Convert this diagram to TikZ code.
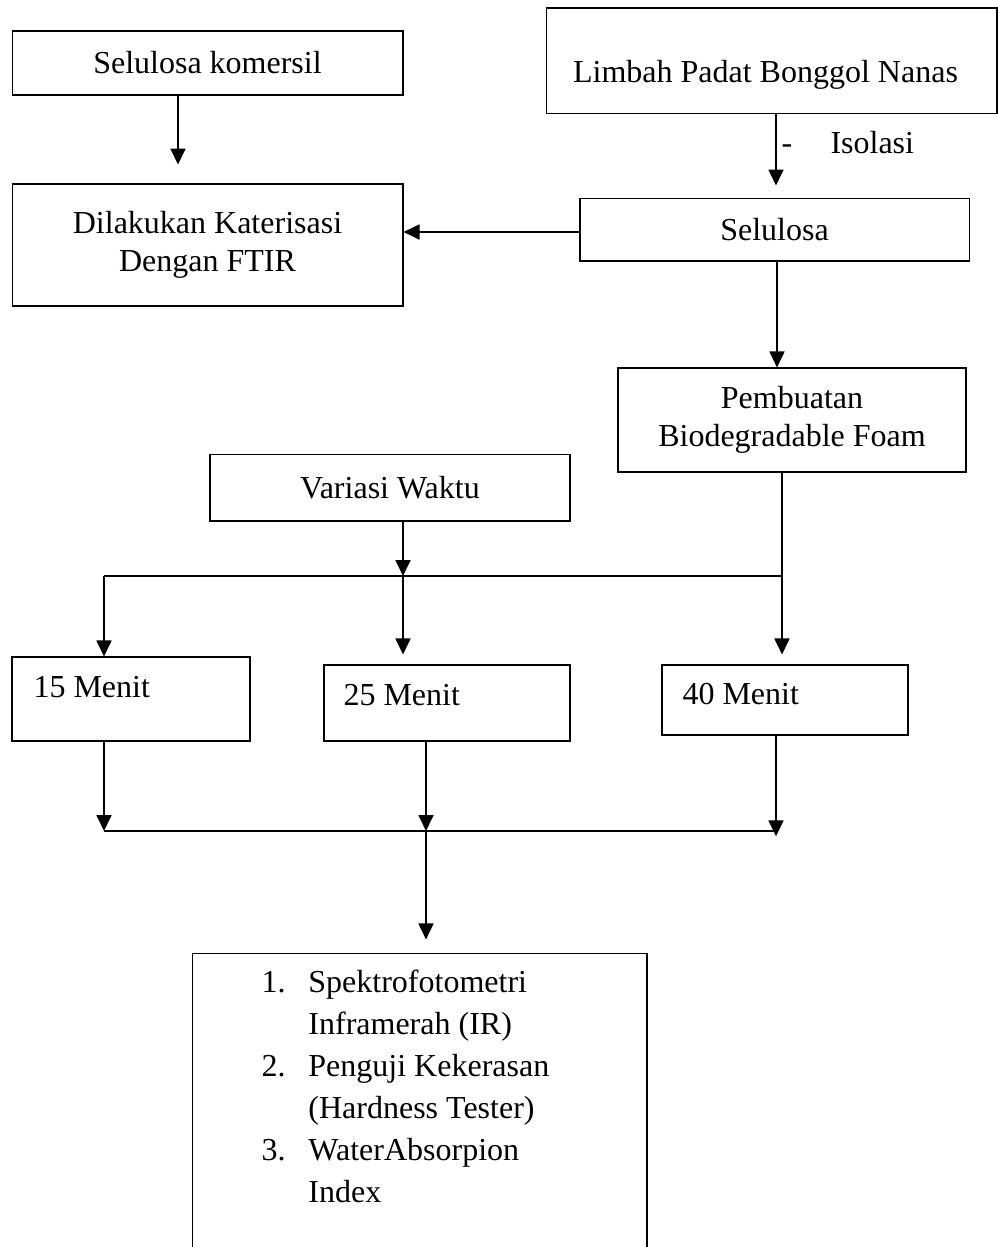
\documentclass[tikz,border=0pt]{standalone}
\usepackage{fontspec}
\setmainfont{Liberation Serif}
\usetikzlibrary{arrows.meta, positioning}

\begin{document}
\begin{tikzpicture}[
    x=0.375pt, y=-0.375pt,
    box/.style={draw, line width=0.4pt, inner sep=0pt, align=center,
                font=\fontsize{12}{14.25}\selectfont},
    txt/.style={inner sep=0pt, font=\fontsize{12}{14.25}\selectfont},
    line/.style={line width=0.75pt},
    arr/.style={line width=0.75pt, -{Triangle[length=6pt, width=5.6pt]}}
]
    \useasboundingbox (0,0) rectangle (998,1247);
    \clip (0,0) rectangle (998,1247);

    % boxes
    \node[box, minimum width=146.6pt, minimum height=24pt] (komersil) at (207.5,63) {Selulosa komersil};
    \node[box, minimum width=146.6pt, minimum height=45.75pt] (ftir) at (207.5,245) {Dilakukan Katerisasi\\Dengan FTIR};
    \node[box, minimum width=169.1pt, minimum height=39.4pt] (limbah) at (771.5,60.5) {};
    \node[txt, anchor=base] (limbahtxt) at (765.5,82) {Limbah Padat Bonggol Nanas};
    \node[box, minimum width=145.9pt, minimum height=23.6pt] (selulosa) at (774.5,229.5) {Selulosa};
    \node[box, minimum width=130.5pt, minimum height=39pt] (foam) at (792,420) {Pembuatan\\Biodegradable Foam};
    \node[box, minimum width=135pt, minimum height=25.1pt] (variasi) at (390,487.5) {Variasi Waktu};

    \node[box, minimum width=89.25pt, minimum height=31.5pt] (m15) at (131,699) {};
    \node[box, minimum width=92.25pt, minimum height=28.5pt] (m25) at (447,703) {};
    \node[box, minimum width=92.25pt, minimum height=26.25pt] (m40) at (785,700) {};
    \node[txt, anchor=base west] (m15txt) at (33,697) {15 Menit};
    \node[txt, anchor=base west] (m25txt) at (343,705) {25 Menit};
    \node[txt, anchor=base west] (m40txt) at (682,704) {40 Menit};

    \node[box, minimum width=170.6pt, minimum height=130.1pt] (uji) at (419.5,1126.5) {};
    \node[txt, anchor=north west, align=left, font=\fontsize{12}{15.75}\selectfont] (ujitxt) at (261,969)
        {\makebox[17.6pt][l]{1.}Spektrofotometri\\
         \hspace*{17.6pt}Inframerah (IR)\\
         \makebox[17.6pt][l]{2.}Penguji Kekerasan\\
         \hspace*{17.6pt}(Hardness Tester)\\
         \makebox[17.6pt][l]{3.}WaterAbsorpion\\
         \hspace*{17.6pt}Index};

    % isolasi label
    \node[txt, anchor=base] (strip) at (787,153) {-};
    \node[txt, anchor=base west] (isolasi) at (830,153) {Isolasi};

    % split and join points
    \coordinate (bagiL) at (104,576);
    \coordinate (bagiM) at (403,576);
    \coordinate (bagiR) at (782,576);
    \coordinate (gabL) at (104,831);
    \coordinate (gabM) at (426,831);
    \coordinate (gabR) at (776,831);

    % connectors
    \draw[arr, shorten >=7.1pt] (komersil.south -| 178,0) -- (ftir.north -| 178,0);
    \draw[arr, shorten >=4.5pt] (limbah.south -| 776,0) -- (selulosa.north -| 776,0);
    \draw[arr] (selulosa.west |- 0,232) -- (ftir.east |- 0,232);
    \draw[arr] (selulosa.south -| 777,0) -- (foam.north -| 777,0);

    \draw[line] (foam.south -| bagiR) -- (bagiR);
    \draw[line] (bagiL) -- (bagiR);
    \draw[arr] (variasi.south -| bagiM) -- (bagiM);
    \draw[arr] (bagiL) -- (m15.north -| bagiL);
    \draw[arr, shorten >=3.75pt] (bagiM) -- (m25.north -| bagiM);
    \draw[arr, shorten >=3.75pt] (bagiR) -- (m40.north -| bagiR);

    \draw[arr] (m15.south -| gabL) -- (gabL);
    \draw[arr] (m25.south -| gabM) -- (gabM);
    \draw[arr, shorten >=-2pt] (m40.south -| gabR) -- (gabR);
    \draw[line] (gabL) -- (gabR);
    \draw[arr, shorten >=4.9pt] (gabM) -- (uji.north -| gabM);
\end{tikzpicture}
\end{document}
